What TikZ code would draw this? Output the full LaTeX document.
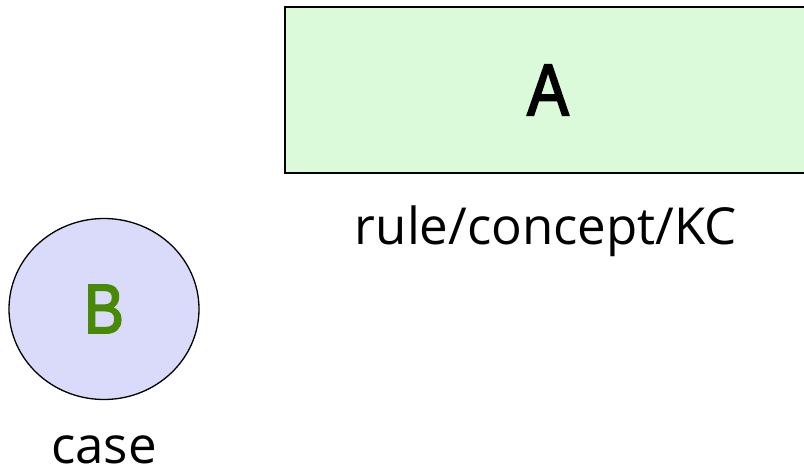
\documentclass[tikz,border=0pt]{standalone}
\usepackage{fontspec}
\usetikzlibrary{shapes.geometric}
\setmainfont{Liberation Sans}
\newfontfamily\labelfont{Open Sans}
\newfontfamily\letterfont[FakeStretch=0.85,FakeBold=2.6]{Liberation Sans}
\definecolor{rulegreen}{RGB}{218,250,218}
\definecolor{caseblue}{RGB}{218,218,250}
\definecolor{bgreen}{RGB}{72,138,4}
\begin{document}
\begin{tikzpicture}[x=1pt,y=-1pt]
      \useasboundingbox (0,0) rectangle (804,473);
      \tikzset{
        box/.style={draw, line width=2.2pt, fill=rulegreen, minimum width=526pt, minimum height=166pt, inner sep=0pt},
        disc/.style={draw, ellipse, line width=1.3pt, fill=caseblue, minimum width=190pt, minimum height=181pt, inner sep=0pt},
        caption/.style={font=\labelfont\fontsize{51}{56}\selectfont, inner sep=0pt, anchor=base}
      }
      \draw
        (548,90) node[box, font=\letterfont\fontsize{73}{80}\selectfont] (A){A}
        (104,309) node[disc, text=bgreen, font=\letterfont\fontsize{70}{80}\selectfont] (B){B}
        (546,245) node[caption] (kc){rule/concept/KC}
        (104,463) node[caption, text depth=0pt] (case){case};
    \end{tikzpicture}
\end{document}
